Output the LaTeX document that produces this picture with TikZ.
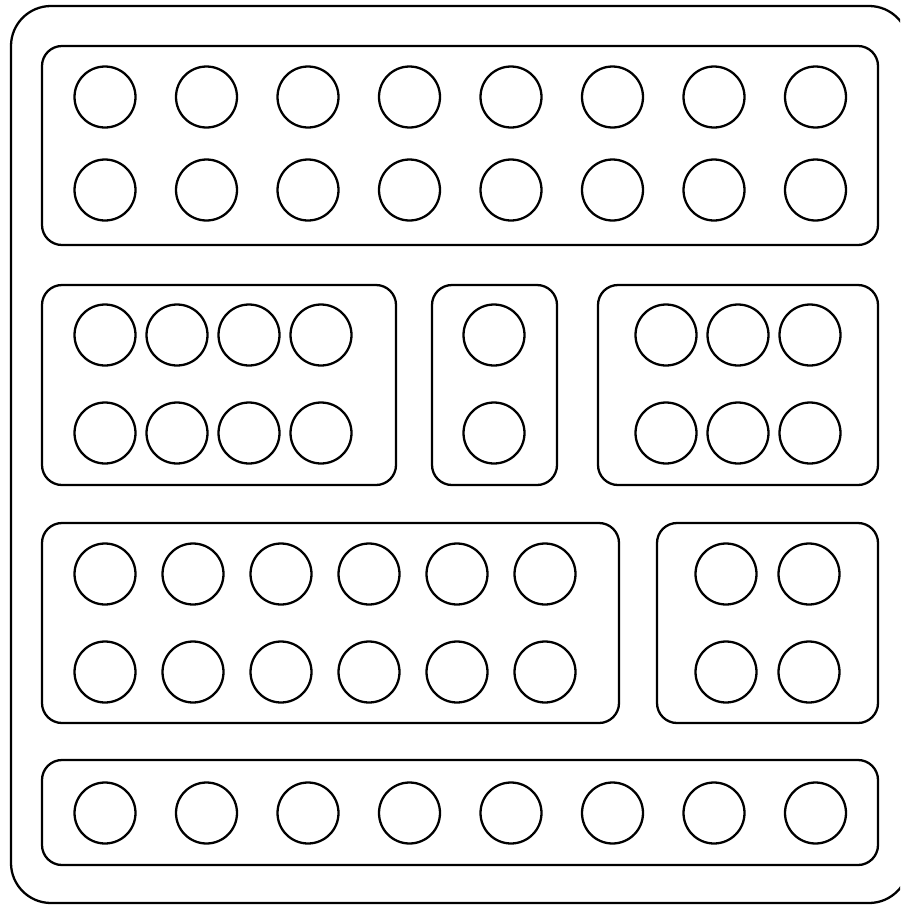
\documentclass[tikz,border=0pt]{standalone}
\usepackage{tikz}

\begin{document}
\begin{tikzpicture}[
  x=0.02cm, y=-0.02cm,
  tray/.style={draw=black, line width=1.3pt, rounded corners=0.4cm},
  case/.style={draw=black, line width=1.3pt, rounded corners=0.8cm},
  hole/.style={circle, draw=black, line width=1.3pt, minimum size=1.22cm, inner sep=0pt}
]
\clip (0,0) rectangle (900,906);
\draw[case] (11,6) rectangle (909,903);
% trays
\draw[tray] (42,46) rectangle (878,245);
\draw[tray] (42,285) rectangle (396,485);
\draw[tray] (432,285) rectangle (557,485);
\draw[tray] (598,285) rectangle (878,485);
\draw[tray] (42,523) rectangle (619,723);
\draw[tray] (657,523) rectangle (878,723);
\draw[tray] (42,760) rectangle (878,865);
% holes
\foreach \i in {0,...,7} {
  \node[hole] (top-a-\i) at (105+101.5*\i,97) {};
  \node[hole] (top-b-\i) at (105+101.5*\i,190) {};
  \node[hole] (bot-\i)   at (105+101.5*\i,813) {};
}
\foreach \i in {0,...,3} {
  \node[hole] (left-a-\i) at (105+72*\i,335) {};
  \node[hole] (left-b-\i) at (105+72*\i,433) {};
}
\node[hole] (mid-a) at (494,335) {};
\node[hole] (mid-b) at (494,433) {};
\foreach \i in {0,...,2} {
  \node[hole] (right-a-\i) at (666+72*\i,335) {};
  \node[hole] (right-b-\i) at (666+72*\i,433) {};
}
\foreach \i in {0,...,5} {
  \node[hole] (wide-a-\i) at (105+88*\i,574) {};
  \node[hole] (wide-b-\i) at (105+88*\i,672) {};
}
\foreach \i in {0,...,1} {
  \node[hole] (small-a-\i) at (726+83*\i,574) {};
  \node[hole] (small-b-\i) at (726+83*\i,672) {};
}
\end{tikzpicture}
\end{document}
